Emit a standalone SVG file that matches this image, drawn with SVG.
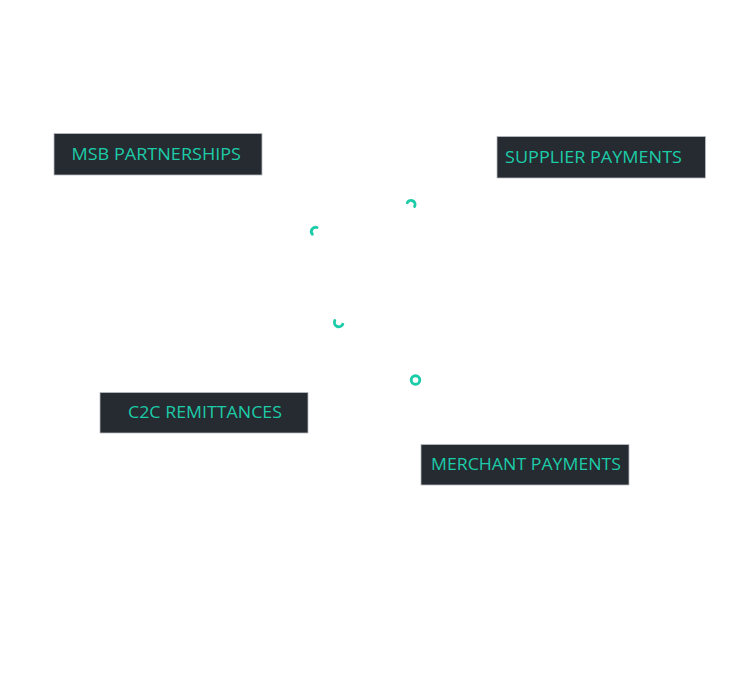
<svg xmlns="http://www.w3.org/2000/svg" width="744" height="688" viewBox="0 0 744 688">
  <style>
    .box { fill: #262a31; stroke: #b9bcc0; stroke-width: 0.8; }
    .label { fill: #1ccca8; font-family: "Open Sans", "Liberation Sans", sans-serif; font-size: 15.5px; }
    .mark { fill: none; stroke: #1ccca8; stroke-width: 2.9; stroke-linecap: round; }
  </style>
  <rect width="744" height="688" fill="#ffffff"/>

  <g id="msb-partnerships">
    <rect class="box" x="54" y="133.5" width="208" height="41.5"/>
    <text class="label" x="71.5" y="159.5" textLength="169.5" lengthAdjust="spacingAndGlyphs">MSB PARTNERSHIPS</text>
  </g>

  <g id="supplier-payments">
    <rect class="box" x="497" y="136.5" width="208.5" height="41.5"/>
    <text class="label" x="505" y="162.5" textLength="177" lengthAdjust="spacingAndGlyphs">SUPPLIER PAYMENTS</text>
  </g>

  <g id="c2c-remittances">
    <rect class="box" x="100" y="392.5" width="208" height="40.5"/>
    <text class="label" x="128" y="418" textLength="154" lengthAdjust="spacingAndGlyphs">C2C REMITTANCES</text>
  </g>

  <g id="merchant-payments">
    <rect class="box" x="421" y="444.5" width="208" height="40.5"/>
    <text class="label" x="431" y="470" textLength="190" lengthAdjust="spacingAndGlyphs">MERCHANT PAYMENTS</text>
  </g>

  <g id="connectors">
    <path class="mark" d="M407.3 202.6 A3.8 3.8 0 0 1 414.6 206.4"/>
    <path class="mark" d="M317 227.5 A4.2 4.2 0 0 0 312.4 234.2"/>
    <path class="mark" d="M334.8 320.6 A4.2 4.2 0 0 0 342.8 324.2"/>
    <circle class="mark" cx="415.5" cy="380" r="4.3"/>
  </g>
</svg>
